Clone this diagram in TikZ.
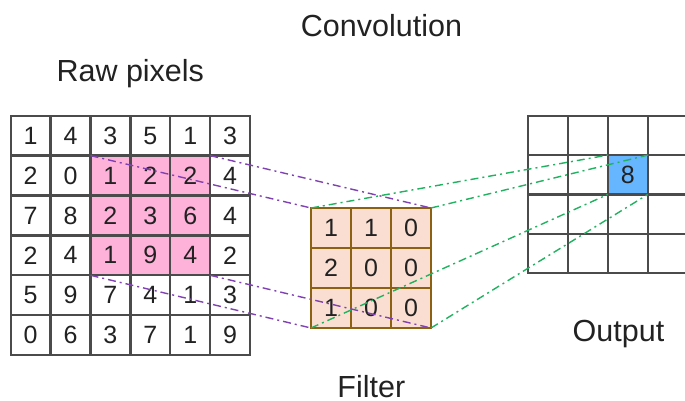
\documentclass[tikz,border=0pt]{standalone}
\usepackage{fontspec}
\setmainfont{Liberation Sans}
\definecolor{gridc}{RGB}{75,75,75}
\definecolor{txtc}{RGB}{34,34,34}
\definecolor{pinkc}{RGB}{255,178,217}
\definecolor{filtfill}{RGB}{250,222,210}
\definecolor{filtline}{RGB}{140,98,18}
\definecolor{bluec}{RGB}{102,182,255}
\definecolor{purplec}{RGB}{128,66,178}
\definecolor{greenc}{RGB}{32,178,96}
\tikzset{
  cell/.style={minimum width=39.9pt, minimum height=39.9pt, inner sep=0pt, outer sep=0pt, text=txtc, font=\fontsize{25}{29}\selectfont},
  ocell/.style={cell, minimum width=40pt, minimum height=39.4pt},
  gridline/.style={draw=gridc, line width=2.3pt},
  filtgrid/.style={draw=filtline, line width=2.3pt},
  title/.style={anchor=base, text=txtc, font=\fontsize{30.5}{36}\selectfont, inner sep=0pt},
  dashdot/.style={line width=1.4pt, dash pattern=on 8pt off 4pt on 2pt off 4pt},
  purpleline/.style={dashdot, draw=purplec},
  greenline/.style={dashdot, draw=greenc}
}
\begin{document}
\begin{tikzpicture}[x=1pt,y=-1pt]
\useasboundingbox (0,0) rectangle (685,401);
\clip (0,0) rectangle (685,401);
% titles
\node[title] (tconv) at (381.5,36.5) {Convolution};
\node[title] (traw) at (130.3,81.7) {Raw pixels};
\node[title] (tout) at (618.5,341.7) {Output};
\node[title] (tfil) at (371.3,397.8) {Filter};
% raw pixel grid
\foreach \row [count=\i] in {{1,4,3,5,1,3},{2,0,1,2,2,4},{7,8,2,3,6,4},{2,4,1,9,4,2},{5,9,7,4,1,3},{0,6,3,7,1,9}} {
  \foreach \v [count=\j] in \row {
    \def\fc{white}
    \ifnum\i>1 \ifnum\i<5 \ifnum\j>2 \ifnum\j<6 \def\fc{pinkc}\fi\fi\fi\fi
    \node[cell, fill=\fc] (r-\i-\j) at ({10.7+39.9*(\j-0.5)},{115.7+39.9*(\i-0.5)}) {\v};
  }
}
\foreach \i in {1,...,6} {
  \foreach \j in {1,...,6} {
    \draw[gridline] (r-\i-\j.north west) rectangle (r-\i-\j.south east);
  }
}
% filter
\foreach \row [count=\i] in {{1,1,0},{2,0,0},{1,0,0}} {
  \foreach \v [count=\j] in \row {
    \node[cell, minimum width=40pt, minimum height=40pt, fill=filtfill] (f-\i-\j) at ({311+40*(\j-0.5)},{208+40*(\i-0.5)}) {\v};
  }
}
\foreach \i in {1,...,3} {
  \foreach \j in {1,...,3} {
    \draw[filtgrid] (f-\i-\j.north west) rectangle (f-\i-\j.south east);
  }
}
% output grid
\foreach \i in {1,...,4} {
  \foreach \j in {1,...,4} {
    \node[ocell] (o-\i-\j) at ({527.7+40*(\j-0.5)},{115.7+39.4*(\i-0.5)}) {};
  }
}
\node[ocell, fill=bluec] (o-2-3) at ({527.7+40*2.5},{115.7+39.4*1.5}) {8};
\foreach \i in {1,...,4} {
  \foreach \j in {1,...,4} {
    \draw[gridline] (o-\i-\j.north west) rectangle (o-\i-\j.south east);
  }
}
% connectors
\draw[purpleline] (r-2-3.north west) -- (f-1-1.north west);
\draw[purpleline] (r-2-5.north east) -- (f-1-3.north east);
\draw[purpleline] (r-4-3.south west) -- (f-3-1.south west);
\draw[purpleline] (r-4-5.south east) -- (f-3-3.south east);
\draw[greenline] (f-1-1.north west) -- (o-2-3.north west);
\draw[greenline] (f-1-3.north east) -- (o-2-3.north east);
\draw[greenline] (f-3-1.south west) -- (o-2-3.south west);
\draw[greenline] (f-3-3.south east) -- (o-2-3.south east);
\end{tikzpicture}
\end{document}
